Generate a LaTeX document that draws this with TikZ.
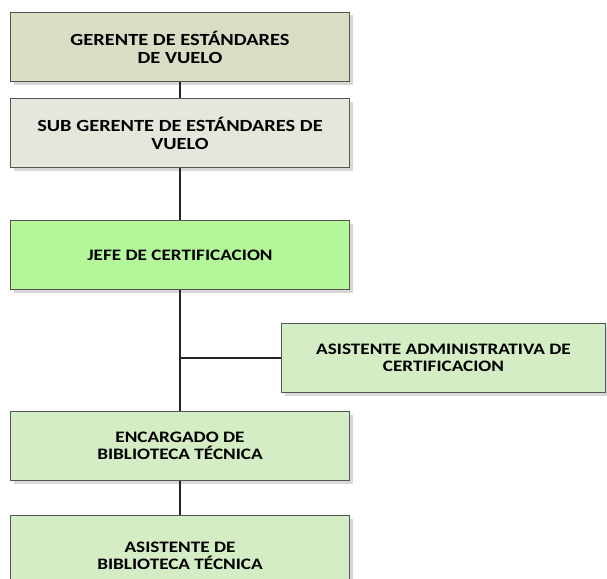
\documentclass[tikz,border=0pt]{standalone}
\usepackage{fontspec}
\setmainfont{Carlito}
\newfontfamily\cargofont{Carlito}[FakeStretch=1.2]
\usepackage{xcolor}
\usetikzlibrary{shadows}

\definecolor{gerente}{RGB}{216,221,196}
\definecolor{subgerente}{RGB}{229,231,221}
\definecolor{jefe}{RGB}{180,246,154}
\definecolor{asist}{RGB}{212,237,196}
\definecolor{borde}{RGB}{85,85,85}

\begin{document}
\begin{tikzpicture}[x=1pt, y=-1pt,
    cargo/.style={draw=borde, line width=1pt, anchor=north west,
        minimum width=339pt, minimum height=69pt, align=center,
        font=\cargofont\fontsize{17}{18}\selectfont\bfseries,
        drop shadow={shadow xshift=3pt, shadow yshift=-3pt, fill=black!30, opacity=.5}},
    menor/.style={font=\cargofont\fontsize{16}{17}\selectfont\bfseries},
    enlace/.style={draw=black!85, line width=1.6pt}]

    \clip (0,0) rectangle (607,578);

    % Cargos
    \node[cargo, fill=gerente] (gerente) at (10,12) {GERENTE DE ESTÁNDARES\\DE VUELO};
    \node[cargo, fill=subgerente] (subgerente) at (10,98) {SUB GERENTE DE ESTÁNDARES DE\\VUELO};
    \node[cargo, menor, fill=jefe] (jefe) at (10,220) {JEFE DE CERTIFICACION};
    \node[cargo, menor, fill=asist, minimum width=324pt] (asistente) at (281,323) {ASISTENTE ADMINISTRATIVA DE\\CERTIFICACION};
    \node[cargo, menor, fill=asist] (encargado) at (10,411) {ENCARGADO DE\\BIBLIOTECA TÉCNICA};
    \node[cargo, menor, fill=asist, minimum height=80pt] (biblioteca) at (10,515) {ASISTENTE DE\\BIBLIOTECA TÉCNICA};

    % Enlaces
    \draw[enlace] (gerente.south) -- (subgerente.north);
    \draw[enlace] (subgerente.south) -- (jefe.north);
    \draw[enlace] (jefe.south) -- (encargado.north);
    \draw[enlace] (asistente.west) -- (asistente.west -| jefe.south);
    \draw[enlace] (encargado.south) -- (biblioteca.north);

\end{tikzpicture}
\end{document}
